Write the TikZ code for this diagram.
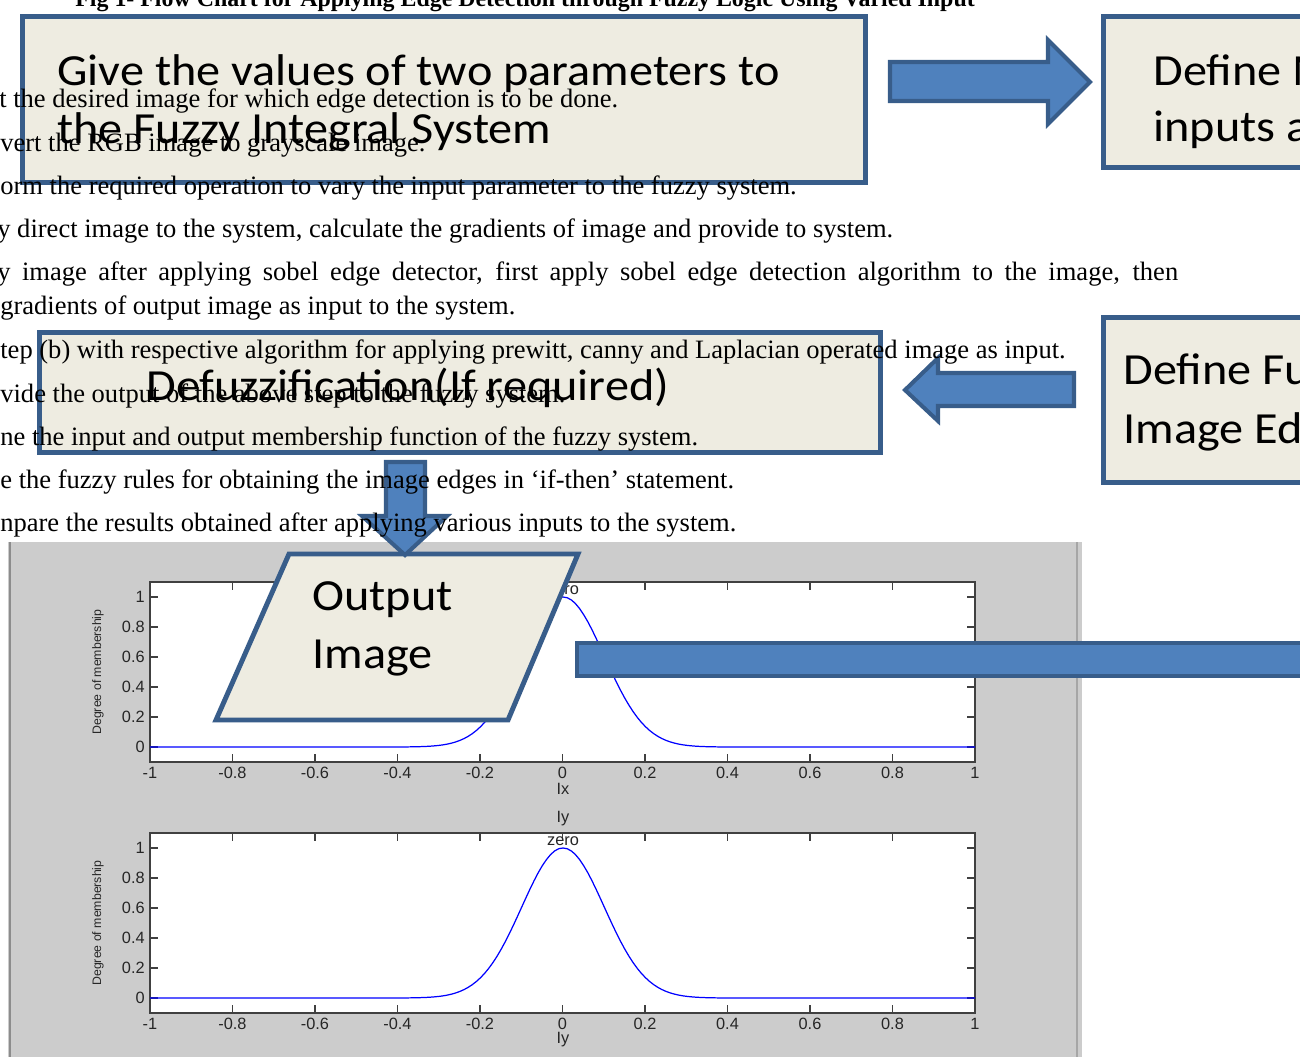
\documentclass[tikz,border=0pt]{standalone}
\usepackage{fontspec}
\setmainfont{Liberation Serif}
\newfontfamily\calibfont[FakeStretch=1.085]{Carlito}
\newfontfamily\plotfont{Liberation Sans}
\usepackage{xcolor}
\definecolor{boxFill}{HTML}{EEECE1}
\definecolor{boxLine}{HTML}{385D8A}
\definecolor{arrowFill}{HTML}{4F81BD}
\definecolor{panelGray}{HTML}{CCCCCC}
\definecolor{curveBlue}{HTML}{0000FF}
\usetikzlibrary{positioning}

\begin{document}
\begin{tikzpicture}[
    x=0.02cm, y=-0.02cm,
    flowbox/.style={
        draw=boxLine,
        line width=2.8pt,
        fill=boxFill,
        rectangle,
        anchor=north west,
        inner sep=0pt
    },
    boxtext/.style={
        anchor=base west,
        inner sep=0pt,
        font=\calibfont\fontsize{25.3}{30}\selectfont
    },
    blockarrow/.style={
        draw=boxLine,
        line width=2.3pt,
        fill=arrowFill,
        line join=miter
    },
    bodytext/.style={
        anchor=base west,
        inner sep=0pt,
        font=\fontsize{15.1}{18}\selectfont
    },
    ticklabel/.style={
        inner sep=0pt,
        text=black!85,
        font=\plotfont\fontsize{9.3}{11}\selectfont
    }
]
\useasboundingbox (0,0) rectangle (1300,1056);
\clip (0,0) rectangle (1300,1056);

% MATLAB figure panel
\fill[panelGray] (8,542) rectangle (1082,1060);
\draw[black!45, line width=1.2pt] (10,542) -- (10,1060);
\draw[black!35, line width=1.5pt] (1077,542) -- (1077,1060);

% two membership plots (Ix above, Iy below)
\foreach \dy/\nm in {0/Ix, 251/Iy} {
  \begin{scope}[yshift=-\dy*0.02cm]
    \filldraw[fill=white, draw=black!75, line width=0.6pt] (150,582) rectangle (975,762);
    \foreach \lab [count=\i from 0] in {-1,-0.8,-0.6,-0.4,-0.2,0,0.2,0.4,0.6,0.8,1} {
      \draw[black!75, line width=0.6pt] ({150+82.5*\i},762) -- ++(0,-8);
      \draw[black!75, line width=0.6pt] ({150+82.5*\i},582) -- ++(0,8);
      \node[ticklabel] (xt-\nm-\i) at ({150+82.5*\i},773) {\lab};
    }
    \foreach \lab [count=\j from 0] in {0,0.2,0.4,0.6,0.8,1} {
      \draw[black!75, line width=0.6pt] (150,{747-30*\j}) -- ++(8,0);
      \draw[black!75, line width=0.6pt] (975,{747-30*\j}) -- ++(-8,0);
      \node[ticklabel, anchor=east] (yt-\nm-\j) at (145,{747-30*\j}) {\lab};
    }
    \draw[curveBlue, line width=0.7pt] (150,747) -- ({563-412.5*0.45},747)
      -- plot[domain=-0.45:0.45, samples=91] ({563+412.5*\x},{747-150*exp(-(\x*\x)/0.02)})
      -- (975,747);
    \node[ticklabel] (zero-\nm) at (563,590) {zero};
    \node[ticklabel] (xlab-\nm) at (563,789) {\nm};
    \node[ticklabel, rotate=90, font=\plotfont\fontsize{7}{8}\selectfont] (ylab-\nm) at (98,672) {Degree of membership};
  \end{scope}
}
\node[ticklabel] (title-Iy) at (563,819) {Iy};

% flow chart boxes
\node[flowbox, minimum width=16.86cm, minimum height=3.32cm] (give) at (20,14) {};
\node[flowbox, minimum width=4.4cm, minimum height=3.02cm] (member) at (1101,14) {};
\node[flowbox, minimum width=4.4cm, minimum height=3.3cm] (rules) at (1101,315) {};
\node[flowbox, minimum width=16.82cm, minimum height=2.4cm] (defuzz) at (37,330) {};
\draw[draw=boxLine, line width=2.8pt, fill=boxFill, line join=miter]
  (289,554) -- (578,554) -- (508,720) -- (216,720) -- cycle;

% block arrows
\draw[blockarrow] (890,62) -- (1048,62) -- (1048,40) -- (1090,82) -- (1048,124) -- (1048,101) -- (890,101) -- cycle;
\draw[blockarrow] (1074,373) -- (938,373) -- (938,358) -- (905,390) -- (938,421) -- (938,406) -- (1074,406) -- cycle;
\draw[blockarrow] (386,462) -- (425,462) -- (425,516) -- (447,516) -- (405,555) -- (362,516) -- (386,516) -- cycle;
\draw[blockarrow] (577,643) rectangle (1320,676);

% box texts
\node[boxtext] (give-a) at (57,85) {Give the values of two parameters to};
\node[boxtext] (give-b) at (57,143) {the Fuzzy Integral System};
\node[boxtext] (member-a) at (1153,85) {Define M};
\node[boxtext] (member-b) at (1153,141) {inputs a};
\node[boxtext] (rules-a) at (1123,384) {Define Fu};
\node[boxtext] (rules-b) at (1123,443) {Image Ed};
\node[boxtext] (defuzz-t) at (146,400) {Defuzzification(If required)};
\node[boxtext] (out-a) at (312,610) {Output};
\node[boxtext] (out-b) at (312,668) {Image};

% page text behind the chart
\node[bodytext, font=\bfseries\fontsize{13.6}{16}\selectfont] (figtitle) at (75,6) {Fig 1- Flow Chart for Applying Edge Detection through Fuzzy Logic Using Varied Input};
\node[bodytext] (l1) at (-1,107) {t the desired image for which edge detection is to be done.};
\node[bodytext] (l2) at (0,151) {vert the RGB image to grayscale image.};
\node[bodytext] (l3) at (0,194) {orm the required operation to vary the input parameter to the fuzzy system.};
\node[bodytext] (l4) at (-3,237) {y direct image to the system, calculate the gradients of image and provide to system.};
\node[bodytext] (l5) at (-3,280) {\makebox[23.62cm][s]{y image after applying sobel edge detector, first apply sobel edge detection algorithm to the image, then}};
\node[bodytext] (l6) at (0,314) {gradients of output image as input to the system.};
\node[bodytext] (l7) at (0,358) {tep (b) with respective algorithm for applying prewitt, canny and Laplacian operated image as input.};
\node[bodytext] (l8) at (0,402) {vide the output of the above step to the fuzzy system.};
\node[bodytext] (l9) at (0,445) {ne the input and output membership function of the fuzzy system.};
\node[bodytext] (l10) at (0,488) {e the fuzzy rules for obtaining the image edges in `if-then' statement.};
\node[bodytext] (l11) at (0,531) {npare the results obtained after applying various inputs to the system.};
\end{tikzpicture}
\end{document}
